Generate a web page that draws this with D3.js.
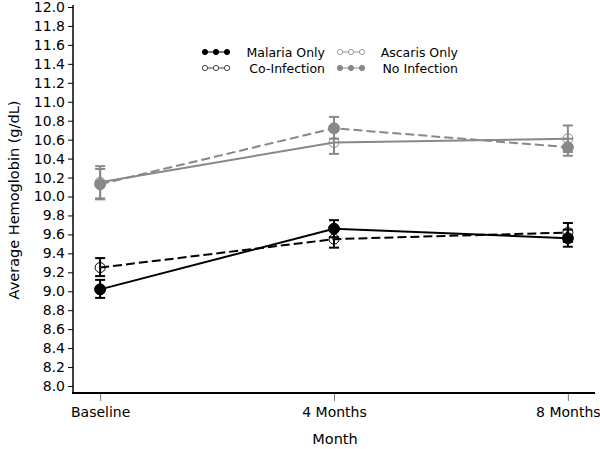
<!DOCTYPE html>
<html><head><meta charset="utf-8">
<script src="https://cdn.jsdelivr.net/npm/d3@7"></script>
<style>body{margin:0;background:#fff}svg{display:block}text{font-family:"DejaVu Sans",sans-serif}</style>
</head><body><svg id="c" width="600" height="449"></svg>
<script>
const months = ["Baseline", "4 Months", "8 Months"];
const yTicks = [8.0,8.2,8.4,8.6,8.8,9.0,9.2,9.4,9.6,9.8,10.0,10.2,10.4,10.6,10.8,11.0,11.2,11.4,11.6,11.8,12.0];
const seriesNames = ["Malaria Only", "Co-Infection", "Ascaris Only", "No Infection"];
const malariaMean = [9.02, 9.66, 9.56];
const malariaLo   = [8.93, 9.57, 9.47];
const malariaHi   = [9.12, 9.75, 9.65];
const coinfMean = [9.25, 9.55, 9.62];
const coinfLo   = [9.16, 9.46, 9.52];
const coinfHi   = [9.35, 9.64, 9.72];
const ascarisMean = [10.15, 10.57, 10.61];
const ascarisLo   = [9.98, 10.45, 10.47];
const ascarisHi   = [10.32, 10.69, 10.75];
const noinfMean = [10.13, 10.72, 10.52];
const noinfLo   = [9.97, 10.61, 10.43];
const noinfHi   = [10.29, 10.84, 10.61];

const series = [
  {name: seriesNames[0], mean: malariaMean, lo: malariaLo, hi: malariaHi, color: "#000", filled: true, dash: null, legColor:"#000"},
  {name: seriesNames[1], mean: coinfMean, lo: coinfLo, hi: coinfHi, color: "#000", filled: false, dash: "9,4", legColor:"#444"},
  {name: seriesNames[2], mean: ascarisMean, lo: ascarisLo, hi: ascarisHi, color: "#888", filled: false, dash: null, legColor:"#999"},
  {name: seriesNames[3], mean: noinfMean, lo: noinfLo, hi: noinfHi, color: "#888", filled: true, dash: "9,4", legColor:"#888"}
];

const svg = d3.select("#c");
const x = d3.scalePoint().domain(months).range([73, 595]).padding(0.116);
const y = d3.scaleLinear().domain([8, 12]).range([386, 7]);

const yAx = svg.append("g").attr("transform","translate(73,0)")
  .call(d3.axisLeft(y).tickValues(yTicks).tickFormat(d3.format(".1f")).tickSize(5).tickPadding(3));
yAx.select(".domain").remove();
yAx.selectAll("text").attr("font-size", 14).attr("fill","#000");
yAx.selectAll("line").attr("stroke","#000");
svg.append("line").attr("x1",73).attr("x2",73).attr("y1",5).attr("y2",393).attr("stroke","#000").attr("stroke-width",1.5);

const xAx = svg.append("g").attr("transform","translate(0,393)")
  .call(d3.axisBottom(x).tickSize(8).tickPadding(6));
xAx.select(".domain").remove();
xAx.selectAll("text").attr("font-size", 14).attr("fill","#000");
xAx.selectAll("line").attr("stroke","#777");
svg.append("line").attr("x1",72).attr("x2",595).attr("y1",393).attr("y2",393).attr("stroke","#000").attr("stroke-width",2);

svg.append("text").attr("x",335).attr("y",444).attr("text-anchor","middle").attr("font-size",14.5).text("Month");
svg.append("text").attr("transform","translate(19,200) rotate(-90)").attr("text-anchor","middle").attr("font-size",14.5).text("Average Hemoglobin (g/dL)");

const line = d3.line().x((d,i)=>x(months[i])).y(d=>y(d));
[series[3], series[2], series[1], series[0]].forEach(s => {
  const g = svg.append("g");
  g.append("path").attr("d", line(s.mean)).attr("fill","none").attr("stroke", s.color)
    .attr("stroke-width", 2).attr("stroke-dasharray", s.dash);
  months.forEach((m,i) => {
    const cx = x(m);
    g.append("line").attr("x1",cx).attr("x2",cx).attr("y1",y(s.lo[i])).attr("y2",y(s.hi[i])).attr("stroke",s.color).attr("stroke-width",2);
    [s.lo[i], s.hi[i]].forEach(v => g.append("line").attr("x1",cx-5).attr("x2",cx+5).attr("y1",y(v)).attr("y2",y(v)).attr("stroke",s.color).attr("stroke-width",2));
    g.append("circle").attr("cx",cx).attr("cy",y(s.mean[i])).attr("r", s.filled?5.5:5)
      .attr("fill", s.filled ? s.color : "none").attr("stroke", s.color).attr("stroke-width", 1);
  });
});

const leg = [
  {s: series[0], mx: 205, tx: 325, ty: 52},
  {s: series[2], mx: 340, tx: 458, ty: 52},
  {s: series[1], mx: 205, tx: 325, ty: 68},
  {s: series[3], mx: 340, tx: 458, ty: 68}
];
leg.forEach(l => {
  const g = svg.append("g");
  g.append("line").attr("x1",l.mx).attr("x2",l.mx+22).attr("y1",l.ty).attr("y2",l.ty).attr("stroke",l.s.legColor).attr("stroke-width",1);
  [0,11,22].forEach(dx => g.append("circle").attr("cx",l.mx+dx).attr("cy",l.ty).attr("r",2.6)
    .attr("fill", l.s.filled ? l.s.legColor : "#fff").attr("stroke", l.s.legColor).attr("stroke-width",1));
  g.append("text").attr("x",l.tx).attr("y",l.ty+4.5).attr("text-anchor","end").attr("font-size",12.5).text(l.s.name);
});
</script></body></html>
